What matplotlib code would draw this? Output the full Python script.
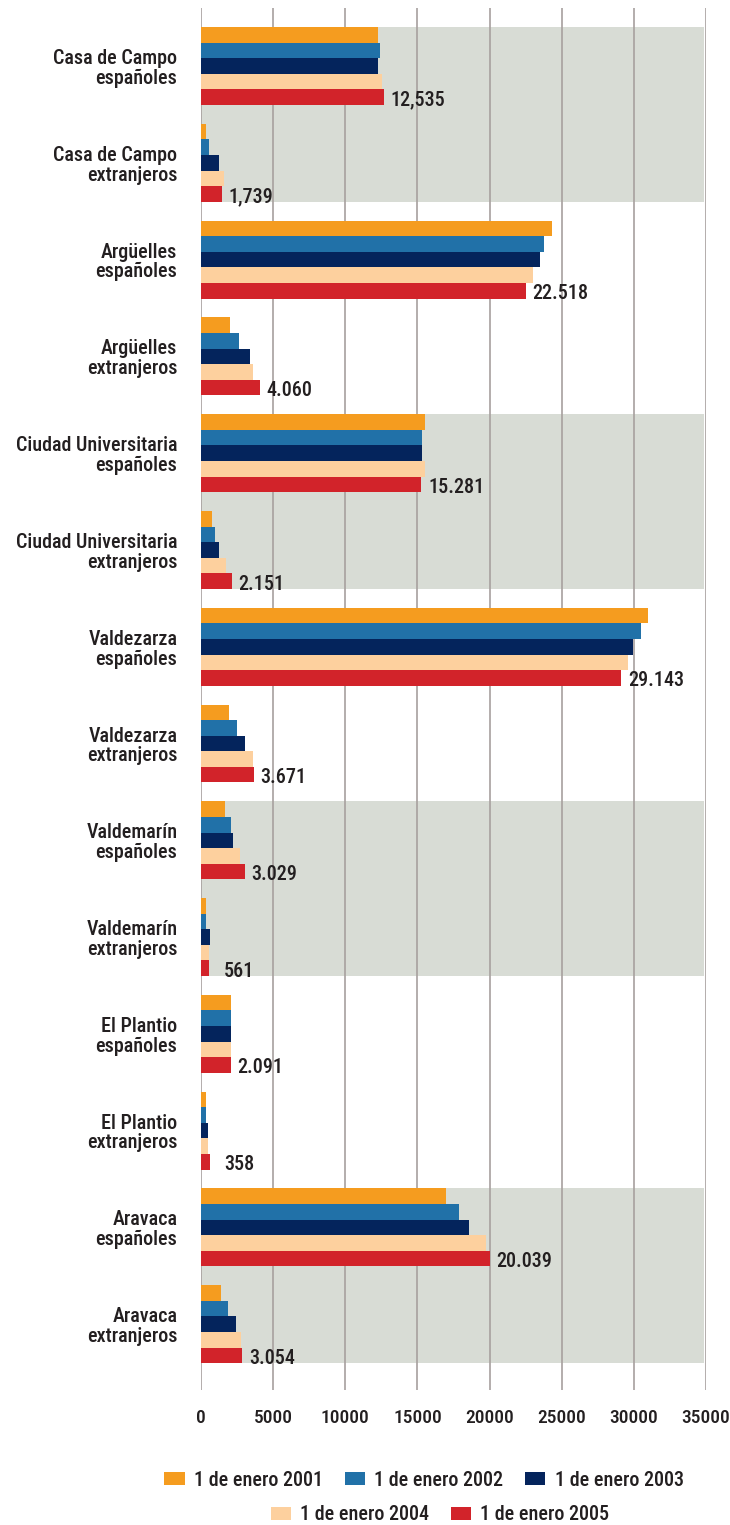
import matplotlib
matplotlib.use("Agg")
import matplotlib.pyplot as plt
from matplotlib.patches import Patch
import numpy as np

categories = [
    "Casa de Campo\nespañoles", "Casa de Campo\nextranjeros",
    "Argüelles\nespañoles", "Argüelles\nextranjeros",
    "Ciudad Universitaria\nespañoles", "Ciudad Universitaria\nextranjeros",
    "Valdezarza\nespañoles", "Valdezarza\nextranjeros",
    "Valdemarín\nespañoles", "Valdemarín\nextranjeros",
    "El Plantio\nespañoles", "El Plantio\nextranjeros",
    "Aravaca\nespañoles", "Aravaca\nextranjeros",
]
series_names = ["1 de enero 2001", "1 de enero 2002", "1 de enero 2003",
                "1 de enero 2004", "1 de enero 2005"]
v2001 = [12250, 320, 24300, 2000, 15550, 780, 30960, 1950, 1650, 330, 2100, 320, 17000, 1400]
v2002 = [12400, 550, 23800, 2600, 15350, 1000, 30480, 2500, 2050, 330, 2050, 320, 17900, 1850]
v2003 = [12250, 1230, 23480, 3400, 15350, 1250, 29930, 3050, 2200, 620, 2100, 480, 18580, 2400]
v2004 = [12550, 1580, 23000, 3600, 15550, 1750, 29570, 3620, 2700, 520, 2050, 480, 19750, 2800]
v2005 = [12700, 1450, 22518, 4060, 15281, 2151, 29143, 3671, 3029, 561, 2091, 600, 20039, 2860]
value_labels = ["12,535", "1,739", "22.518", "4.060", "15.281", "2.151", "29.143",
                "3.671", "3.029", "561", "2.091", "358", "20.039", "3.054"]
xticks = [0, 5000, 10000, 15000, 20000, 25000, 30000, 35000]

colors = ["#F59C1F", "#2171A8", "#04245C", "#FDD09E", "#D2232A"]
band_color = "#D8DCD5"
grid_color = "#A7A09E"
text_color = "#231F20"

plt.rcParams['font.family'] = ['Roboto Condensed', 'DejaVu Sans']
plt.rcParams['font.weight'] = 500

fig = plt.figure(figsize=(7.3, 15.25), dpi=100)
ax = fig.add_axes([201/730, 1-1390/1525, (706-201)/730, (1390-8)/1525])

n = len(categories)
y = np.arange(n)
bh = 0.161
all_series = [v2001, v2002, v2003, v2004, v2005]
for k, (vals, c) in enumerate(zip(all_series, colors)):
    offs = (k - 2) * bh
    ax.barh(y + offs, vals, height=bh, color=c, zorder=3, linewidth=0)

# shaded bands for alternating district pairs
half = 2.5 * bh
for p in [0, 2, 4, 6]:
    ax.axhspan(2*p - half, 2*p + 1 + half, xmin=-0.004, xmax=0.997,
               color=band_color, zorder=0, linewidth=0)

# value labels next to the 2005 bar
for i, (v, lab) in enumerate(zip(v2005, value_labels)):
    xpos = max(v + 450, 1600)
    ax.text(xpos, y[i] + 2*bh + 0.03, lab, ha="left", va="center",
            fontsize=14.5, color=text_color, zorder=4, fontweight=500)

ax.set_xlim(0, 35000)
ax.set_ylim(n - 1 + 0.68, -0.6)
ax.set_xticks(xticks)
ax.set_xticklabels([str(t) for t in xticks], fontweight=500)
ax.set_yticks(y)
ax.set_yticklabels(categories, linespacing=1.05, fontweight=500)
ax.tick_params(axis="x", length=0, pad=14, labelsize=14, colors=text_color)
ax.tick_params(axis="y", length=0, pad=17, labelsize=14.5, colors=text_color)
for lbl in ax.get_yticklabels():
    lbl.set_multialignment("right")
ax.xaxis.grid(True, color=grid_color, linewidth=1.2, zorder=1)
ax.set_axisbelow(False)
for gl in ax.get_xgridlines():
    gl.set_zorder(1)
for s in ax.spines.values():
    s.set_visible(False)
ax.set_facecolor("none")

handles = [Patch(facecolor=c, edgecolor="none") for c in colors]
leg_kw = dict(frameon=False, prop={'family': 'Roboto Condensed', 'size': 14.5, 'weight': 500},
              handlelength=1.0, handleheight=0.6,
              handletextpad=0.45, columnspacing=1.1, borderaxespad=0, borderpad=0,
              labelcolor=text_color)
leg1 = fig.legend(handles[:3], series_names[:3], ncol=3, loc="center",
                  bbox_to_anchor=(424/730, 1-1480/1525), **leg_kw)
leg2 = fig.legend(handles[3:], series_names[3:], ncol=2, loc="center",
                  bbox_to_anchor=(440/730, 1-1515/1525), **leg_kw)

fig.savefig("out.png", dpi=100)
